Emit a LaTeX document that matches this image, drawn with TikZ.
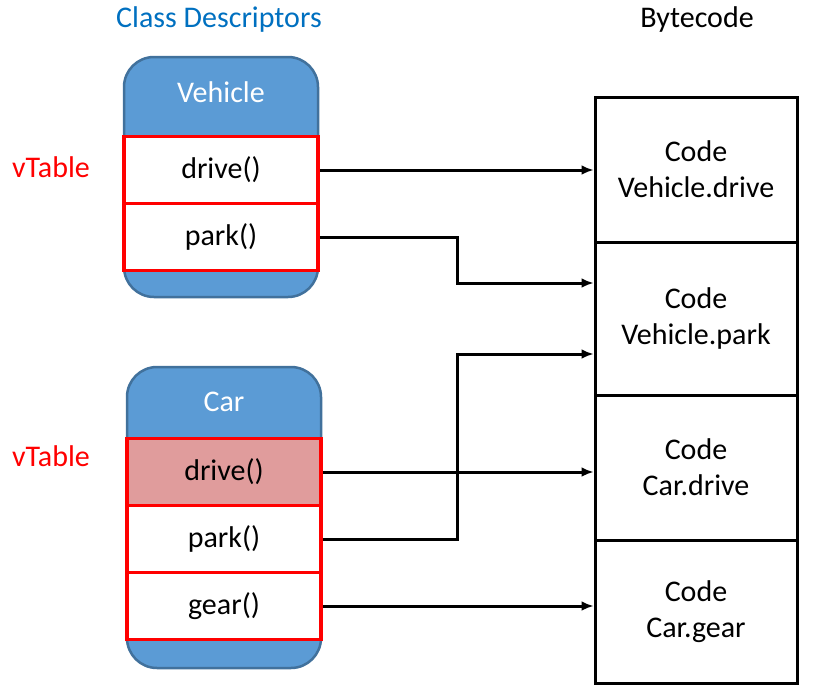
\documentclass[tikz,border=0pt]{standalone}
\usepackage{fontspec}
\setmainfont{Carlito}
\usepackage{xcolor}
\usetikzlibrary{positioning,calc,arrows.meta}
\definecolor{descblue}{HTML}{5B9BD5}
\definecolor{descedge}{HTML}{41719C}
\definecolor{titleblue}{HTML}{0070C0}
\definecolor{overpink}{HTML}{E09C9C}

\begin{document}
\begin{tikzpicture}[x=1pt, y=-1pt,
    every node/.style={font=\fontsize{30}{36}\selectfont},
    descbox/.style={draw=descedge, line width=2.5pt, fill=descblue, rounded corners=30pt,
        minimum width=194pt, inner sep=0pt},
    slot/.style={draw=red, line width=3.5pt, fill=white, minimum width=194pt,
        minimum height=67pt, inner sep=0pt},
    codebox/.style={draw=black, line width=3pt, fill=white, minimum width=202pt,
        align=center, inner sep=0pt},
    link/.style={line width=3pt, -{Latex[length=12pt,width=10pt]}}]
    \useasboundingbox (0,0) rectangle (817,688);

    % headings
    \node[text=titleblue] (desctitle) at (219,20) {Class Descriptors};
    \node (bytetitle) at (697,20) {Bytecode};

    % Vehicle
    \node[descbox, minimum height=240pt] (vehicle) at (221,177) {};
    \node[text=white] (vname) at (221,92) {Vehicle};
    \node[slot] (vdrive) at (221,170) {drive()};
    \node[slot] (vpark) at (221,237) {park()};
    \node[text=red] (vtab1) at (51,167) {vTable};

    % Car
    \node[descbox, minimum height=301pt] (car) at (224,517.5) {};
    \node[text=white] (cname) at (224,402) {Car};
    \node[slot, fill=overpink] (cdrive) at (224,472) {drive()};
    \node[slot] (cpark) at (224,539) {park()};
    \node[slot] (cgear) at (224,606) {gear()};
    \node[text=red] (vtab2) at (51,456) {vTable};

    % Bytecode
    \node[codebox, minimum height=145pt] (code1) at (696,169.5) {Code\\Vehicle.drive};
    \node[codebox, minimum height=153pt] (code2) at (696,318.5) {Code\\Vehicle.park};
    \node[codebox, minimum height=145pt] (code3) at (696,467.5) {Code\\Car.drive};
    \node[codebox, minimum height=143pt] (code4) at (696,611.5) {Code\\Car.gear};

    % pointers
    \coordinate (bend) at (457,0);
    \draw[link] (vdrive.east) -- (vdrive.east -| code1.west);
    \draw[link] (vpark.east) -- (vpark.east -| bend) |- ([yshift=35.5pt]code2.west);
    \draw[link] (cdrive.east) -- (cdrive.east -| code3.west);
    \draw[link] (cpark.east) -- (cpark.east -| bend) |- ([yshift=-35.5pt]code2.west);
    \draw[link] (cgear.east) -- (cgear.east -| code4.west);
\end{tikzpicture}
\end{document}
